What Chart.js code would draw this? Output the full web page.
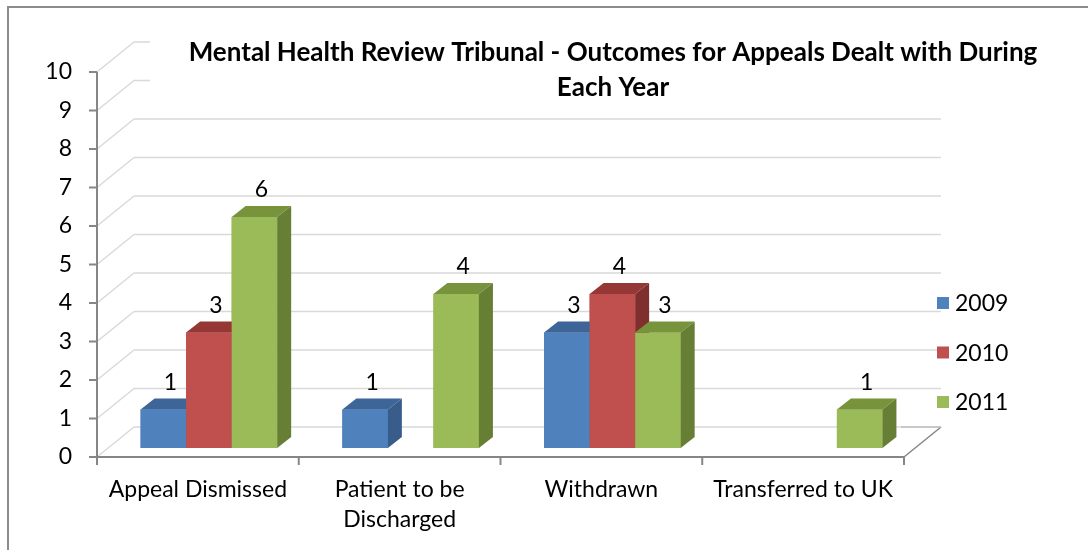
<!DOCTYPE html>
<html>
<head>
<meta charset="utf-8">
<script src="https://cdn.jsdelivr.net/npm/chart.js@4"></script>
<style>
  html, body { margin: 0; padding: 0; background: #fff; }
  #wrap { width: 1088px; height: 550px; position: relative; }
</style>
</head>
<body>
<div id="wrap"><canvas id="mhrtChart"></canvas></div>
<script>
const categories = ['Appeal Dismissed', ['Patient to be', 'Discharged'], 'Withdrawn', 'Transferred to UK'];
const years = ['2009', '2010', '2011'];
const values2009 = [1, 1, 3, 0];
const values2010 = [3, 0, 4, 0];
const values2011 = [6, 4, 3, 1];
const yTicks = [0, 1, 2, 3, 4, 5, 6, 7, 8, 9, 10];
const titleLines = ['Mental Health Review Tribunal - Outcomes for Appeals Dealt with During', 'Each Year'];

// front / top / side colours per series
const faceColors = [
  { front: '#4F81BD', top: '#3D6597', side: '#385D8A' },
  { front: '#C0504D', top: '#953735', side: '#7F302E' },
  { front: '#9BBB59', top: '#77933C', side: '#677E35' }
];

const FONT = 'Lato, "Open Sans", sans-serif';
const FRONT = { dx: -11, dy: 9 };   // front axis plane relative to bar plane
const BACK = { dx: 26, dy: -21 };   // back wall relative to bar plane
const DEPTH = { dx: 14, dy: -11 };  // bar depth

const gridColor = '#D9D9D9';
const axisColor = '#868686';

function line(ctx, x1, y1, x2, y2) {
  ctx.beginPath();
  ctx.moveTo(x1, y1);
  ctx.lineTo(x2, y2);
  ctx.stroke();
}

const box3d = {
  id: 'box3d',
  beforeDatasetsDraw(chart) {
    const { ctx, chartArea, scales } = chart;
    const x = scales.x, y = scales.y;
    ctx.save();

    // outer border
    ctx.strokeStyle = '#8C8C8C';
    ctx.lineWidth = 2;
    ctx.strokeRect(8, 7, 1200, 700);

    // back wall + left wall gridlines
    ctx.strokeStyle = gridColor;
    ctx.lineWidth = 1.5;
    yTicks.forEach(v => {
      const py = y.getPixelForValue(v);
      line(ctx, chartArea.left + FRONT.dx, py + FRONT.dy, chartArea.left + BACK.dx, py + BACK.dy);
      line(ctx, chartArea.left + BACK.dx, py + BACK.dy, chartArea.right + BACK.dx, py + BACK.dy);
    });

    // floor right edge
    const y0 = y.getPixelForValue(0);
    ctx.strokeStyle = axisColor;
    ctx.lineWidth = 1.5;
    line(ctx, chartArea.right + FRONT.dx, y0 + FRONT.dy, chartArea.right + BACK.dx, y0 + BACK.dy);
    ctx.strokeStyle = '#BFBFBF';
    line(ctx, chartArea.right + BACK.dx - 40, y0 + BACK.dy, chartArea.right + BACK.dx, y0 + BACK.dy);

    // front axes
    ctx.strokeStyle = axisColor;
    ctx.lineWidth = 2;
    const axX = chartArea.left + FRONT.dx;
    line(ctx, axX, y.getPixelForValue(10) + FRONT.dy, axX, y0 + FRONT.dy);
    yTicks.forEach(v => {
      const py = y.getPixelForValue(v) + FRONT.dy;
      line(ctx, axX - 8, py, axX, py);
    });
    line(ctx, axX - 8, y0 + FRONT.dy, chartArea.right + FRONT.dx, y0 + FRONT.dy);
    const n = categories.length;
    for (let k = 0; k <= n; k++) {
      const px = chartArea.left + FRONT.dx + (chartArea.right - chartArea.left) * k / n;
      line(ctx, px, y0 + FRONT.dy, px, y0 + FRONT.dy + 8);
    }

    // title block covers the upper gridlines
    ctx.fillStyle = '#fff';
    ctx.fillRect(150, 28, 900, 78);
    ctx.fillStyle = '#000';
    ctx.font = 'bold 26px ' + FONT;
    ctx.textAlign = 'center';
    ctx.textBaseline = 'middle';
    ctx.fillText(titleLines[0], 613, 53);
    ctx.fillText(titleLines[1], 613, 88);

    // legend
    ctx.font = '23px ' + FONT;
    ctx.textAlign = 'left';
    years.forEach((yr, i) => {
      const cy = 303 + i * 49.5;
      ctx.fillStyle = faceColors[i].front;
      ctx.fillRect(937, cy - 6, 12, 12);
      ctx.fillStyle = '#000';
      ctx.fillText(yr, 955, cy + 1);
    });
    ctx.restore();
  },
  afterDatasetsDraw(chart) {
    const { ctx } = chart;
    const bars = [];
    chart.data.datasets.forEach((ds, di) => {
      chart.getDatasetMeta(di).data.forEach((el, i) => {
        if (ds.data[i] > 0) bars.push({ el, di, v: ds.data[i] });
      });
    });
    bars.sort((a, b) => a.el.x - b.el.x);
    ctx.save();
    bars.forEach(({ el, di }) => {
      const c = faceColors[di];
      const l = el.x - el.width / 2, r = el.x + el.width / 2;
      const t = el.y, b = el.base;
      ctx.fillStyle = c.front;
      ctx.fillRect(l, t, r - l, b - t);
      ctx.fillStyle = c.top;
      ctx.beginPath();
      ctx.moveTo(l, t);
      ctx.lineTo(l + DEPTH.dx, t + DEPTH.dy);
      ctx.lineTo(r + DEPTH.dx, t + DEPTH.dy);
      ctx.lineTo(r, t);
      ctx.closePath();
      ctx.fill();
      ctx.fillStyle = c.side;
      ctx.beginPath();
      ctx.moveTo(r, t);
      ctx.lineTo(r + DEPTH.dx, t + DEPTH.dy);
      ctx.lineTo(r + DEPTH.dx, b + DEPTH.dy);
      ctx.lineTo(r, b);
      ctx.closePath();
      ctx.fill();
    });
    // value labels
    ctx.fillStyle = '#000';
    ctx.font = '23px ' + FONT;
    ctx.textAlign = 'center';
    ctx.textBaseline = 'middle';
    bars.forEach(({ el, v }) => {
      ctx.fillText(String(v), el.x + DEPTH.dx / 2, el.y - 27);
    });
    ctx.restore();
  }
};

new Chart(document.getElementById('mhrtChart'), {
  type: 'bar',
  data: {
    labels: categories,
    datasets: [
      { label: years[0], data: values2009, backgroundColor: faceColors[0].front },
      { label: years[1], data: values2010, backgroundColor: faceColors[1].front },
      { label: years[2], data: values2011, backgroundColor: faceColors[2].front }
    ]
  },
  options: {
    responsive: true,
    maintainAspectRatio: false,
    animation: false,
    layout: { padding: { top: 63, right: 173, left: 0, bottom: 0 } },
    datasets: { bar: { barPercentage: 1, categoryPercentage: 0.677 } },
    plugins: {
      legend: { display: false },
      title: { display: false },
      tooltip: { enabled: false }
    },
    scales: {
      x: {
        grid: { display: false, drawTicks: false },
        border: { display: false },
        ticks: {
          color: '#000',
          font: { family: FONT, size: 23, lineHeight: 1.3 },
          padding: 27,
          labelOffset: -11,
          maxRotation: 0,
          autoSkip: false
        },
        afterFit: s => { s.height = 102; }
      },
      y: {
        min: 0,
        max: 10,
        grid: { display: false, drawTicks: false },
        border: { display: false },
        ticks: {
          stepSize: 1,
          color: '#000',
          font: { family: FONT, size: 23 },
          padding: 36,
          labelOffset: 9
        },
        afterFit: s => { s.width = 108; }
      }
    }
  },
  plugins: [box3d]
});
</script>
</body>
</html>
